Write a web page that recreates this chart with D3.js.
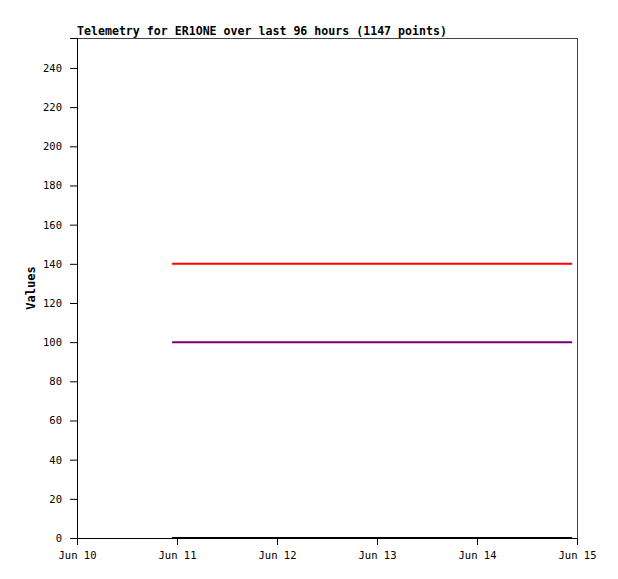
<!DOCTYPE html>
<html>
<head>
<meta charset="utf-8">
<script src="https://cdn.jsdelivr.net/npm/d3@7"></script>
<style>
  body { margin: 0; background: #fff; }
  svg text { font-family: "DejaVu Sans Mono", "Liberation Mono", monospace; }
</style>
</head>
<body>
<div id="chart"></div>
<script>
// Telemetry series, flat over the 96 hour window
var times = ["2023-06-10T22:50:00", "2023-06-12T22:50:00", "2023-06-14T22:50:00"];
var seriesRed = [140, 140, 140];
var seriesPurple = [100, 100, 100];
var seriesBlack = [0, 0, 0];
var yTicks = [0, 20, 40, 60, 80, 100, 120, 140, 160, 180, 200, 220, 240];
var xTicks = ["2023-06-10", "2023-06-11", "2023-06-12", "2023-06-13", "2023-06-14", "2023-06-15"];

var W = 618, H = 579;
var margin = {top: 38, right: 41, bottom: 41, left: 77};
var width = W - margin.left - margin.right;
var height = H - margin.top - margin.bottom;

var parse = d3.timeParse("%Y-%m-%dT%H:%M:%S");
var parseDay = d3.timeParse("%Y-%m-%d");

var svg = d3.select("#chart").append("svg")
  .attr("width", W)
  .attr("height", H);

var g = svg.append("g")
  .attr("transform", "translate(" + margin.left + "," + margin.top + ")");

var x = d3.scaleTime()
  .domain([parseDay(xTicks[0]), parseDay(xTicks[xTicks.length - 1])])
  .range([0, width]);

var y = d3.scaleLinear()
  .domain([0, 255.3])
  .range([height, 0]);

// frame: top and right in gray
g.append("line").attr("x1", 0).attr("x2", width).attr("y1", 0.5).attr("y2", 0.5)
  .attr("stroke", "#444").attr("stroke-width", 1);
g.append("line").attr("x1", width + 0.5).attr("x2", width + 0.5).attr("y1", 0).attr("y2", height)
  .attr("stroke", "#444").attr("stroke-width", 1);

var line = d3.line()
  .x(function (d) { return x(d.t); })
  .y(function (d) { return y(d.v); });

var series = [
  {values: seriesRed, color: "#ff0000"},
  {values: seriesPurple, color: "#770077"},
  {values: seriesBlack, color: "#000000"}
];

series.forEach(function (s) {
  var pts = times.map(function (t, i) { return {t: parse(t), v: s.values[i]}; });
  g.append("path")
    .datum(pts)
    .attr("fill", "none")
    .attr("stroke", s.color)
    .attr("stroke-width", 2)
    .attr("d", line);
});

var yAxis = g.append("g")
  .call(d3.axisLeft(y).tickValues(yTicks).tickSize(7).tickPadding(8));
var xAxis = g.append("g")
  .attr("transform", "translate(0," + height + ")")
  .call(d3.axisBottom(x).tickValues(xTicks.map(parseDay)).tickSize(7).tickPadding(7)
    .tickFormat(d3.timeFormat("%b %d")));

[yAxis, xAxis].forEach(function (a) {
  a.selectAll("path, line").attr("stroke", "#000");
  a.selectAll("text").attr("fill", "#000")
    .style("font-family", "'DejaVu Sans Mono', monospace")
    .style("font-size", "10.5px");
});

// Title
svg.append("text")
  .attr("x", margin.left)
  .attr("y", 35)
  .style("font-size", "11.6px")
  .style("font-weight", "bold")
  .text("Telemetry for ER1ONE over last 96 hours (1147 points)");

// Y axis label
svg.append("text")
  .attr("transform", "translate(35," + (margin.top + height / 2) + ") rotate(-90)")
  .attr("text-anchor", "middle")
  .style("font-size", "12px")
  .style("font-weight", "bold")
  .text("Values");
</script>
</body>
</html>
